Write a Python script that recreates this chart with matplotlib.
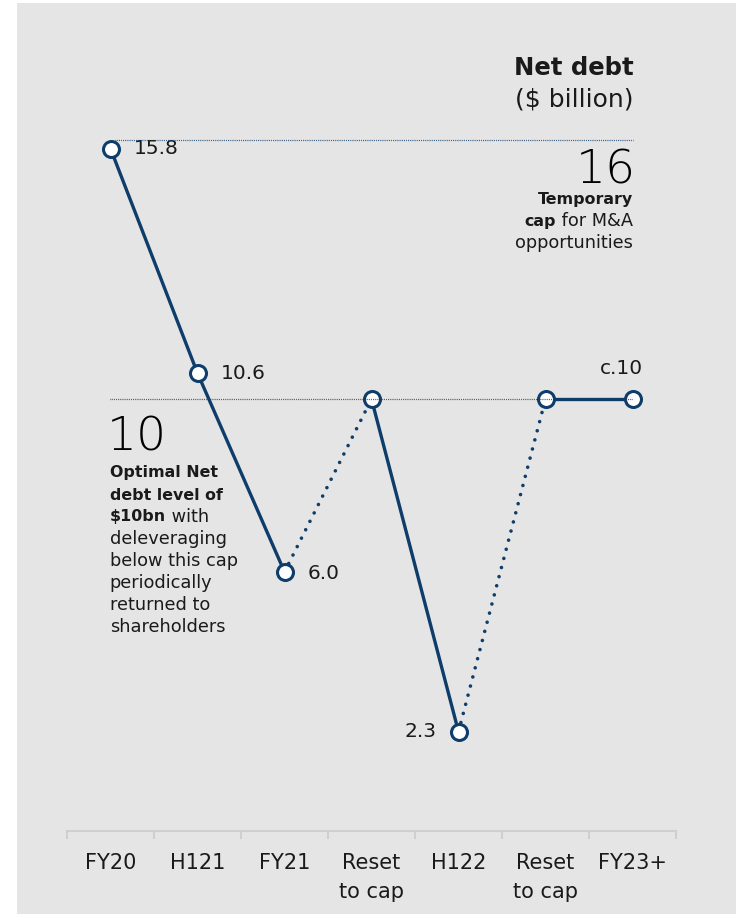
import matplotlib.pyplot as plt
from matplotlib.patches import Rectangle

# net debt path, $ billion
categories = ["FY20", "H121", "FY21", "Reset\nto cap", "H122", "Reset\nto cap", "FY23+"]
net_debt = [15.8, 10.6, 6.0, 10.0, 2.3, 10.0, 10.0]
value_labels = ["15.8", "10.6", "6.0", None, "2.3", None, "c.10"]

temporary_cap = 16
optimal_level = 10

title_bold = "Net debt"
title_unit = "($ billion)"
cap_note = ["Temporary", "cap", " for M&A", "opportunities"]
optimal_note = ["Optimal Net", "debt level of", "$10bn", " with", "deleveraging",
                "below this cap", "periodically", "returned to", "shareholders"]

NAVY = "#0e3d6b"
INK = "#1a1a1a"
BG = "#e5e5e5"
FONT = "DejaVu Sans"
BODY = 12.8
BODY_BOLD = 11.4

plt.rcParams["font.family"] = [FONT]

fig = plt.figure(figsize=(7.36, 9.14), dpi=100)
fig.patch.set_facecolor("white")
fig.patches.append(Rectangle((17 / 736, 0), 1 - 17 / 736, 1 - 3 / 914,
                             transform=fig.transFigure, facecolor=BG,
                             edgecolor="none", zorder=-10))

px_per_unit = 43.19
ymax = 18
ax = fig.add_axes([67 / 736, 83 / 914, 609 / 736, ymax * px_per_unit / 914])
ax.set_facecolor("none")
ax.set_xlim(-0.5, len(categories) - 0.5)
ax.set_ylim(0, ymax)

for side in ["top", "right", "left"]:
    ax.spines[side].set_visible(False)
ax.spines["bottom"].set_color("#cfcfcf")
ax.spines["bottom"].set_linewidth(1.5)
ax.set_yticks([])
xs = list(range(len(categories)))
ax.set_xticks(xs)
ax.set_xticklabels(categories, fontsize=15, color=INK, linespacing=1.55)
ax.tick_params(axis="x", which="major", length=0, pad=16)
ax.set_xticks([x - 0.5 for x in xs] + [xs[-1] + 0.5], minor=True)
ax.tick_params(axis="x", which="minor", length=6, width=1.5, color="#cfcfcf")

# cap reference lines
ax.plot([0.05, 6], [temporary_cap] * 2, color=NAVY, lw=0.9,
        linestyle=(0, (0.6, 0.9)), zorder=5, clip_on=False)
ax.plot([-0.01, 6], [optimal_level] * 2, color="#333333", lw=0.9,
        linestyle=(0, (0.6, 0.9)), zorder=5, clip_on=False)

# path segments: steps into a reset are dotted
for i in range(len(xs) - 1):
    seg_x = xs[i:i + 2]
    seg_y = net_debt[i:i + 2]
    if categories[i + 1].startswith("Reset"):
        ax.plot(seg_x, seg_y, color=NAVY, lw=2.6, linestyle=(0, (0.01, 2.6)),
                dash_capstyle="round", zorder=3)
    else:
        ax.plot(seg_x, seg_y, color=NAVY, lw=2.4, solid_capstyle="round", zorder=3)

ax.plot(xs, net_debt, linestyle="none", marker="o", markersize=11.5,
        markerfacecolor="white", markeredgecolor=NAVY, markeredgewidth=2.2,
        zorder=4, clip_on=False)

# value labels
label_offsets = {0: (17, 0, "left"), 1: (17, 0, "left"), 2: (17, -1, "left"),
                 4: (-16, 0, "right"), 6: (-8, 22, "center")}
for i, lab in enumerate(value_labels):
    if lab is None:
        continue
    dx, dy, ha = label_offsets[i]
    ax.annotate(lab, (xs[i], net_debt[i]), xytext=(dx, dy), textcoords="offset points",
                ha=ha, va="center", fontsize=14.5, color=INK)

# headline, top right
right = 6.01
ax.text(right, 17.67, title_bold, ha="right", va="center", fontsize=17.5,
        fontweight="bold", color=INK)
ax.text(right, 16.93, title_unit, ha="right", va="center", fontsize=18,
        color=INK, parse_math=False)

# temporary cap note
ax.text(right + 0.03, 15.3, str(temporary_cap), ha="right", va="center", fontsize=34,
        fontweight="ultralight", color="black")
ax.text(right, 14.63, cap_note[0], ha="right", va="center", fontsize=BODY_BOLD,
        fontweight="bold", color=INK)
rest = ax.text(right, 14.12, cap_note[2], ha="right", va="center", fontsize=BODY,
               color=INK)
ax.annotate(cap_note[1], xy=(0, 0.5), xycoords=rest, ha="right", va="center",
            fontsize=BODY_BOLD, fontweight="bold", color=INK)
ax.text(right, 13.61, cap_note[3], ha="right", va="center", fontsize=BODY, color=INK)

# optimal level note
left = -0.01
ax.text(left - 0.03, 9.12, str(optimal_level), ha="left", va="center", fontsize=34,
        fontweight="ultralight", color="black")
line_step = 22 / px_per_unit
y = (831 - 473) / px_per_unit
ax.text(left, y, optimal_note[0], ha="left", va="center", fontsize=BODY_BOLD,
        fontweight="bold", color=INK)
y -= line_step
ax.text(left, y, optimal_note[1], ha="left", va="center", fontsize=BODY_BOLD,
        fontweight="bold", color=INK)
y -= line_step
bold = ax.text(left, y, optimal_note[2], ha="left", va="center", fontsize=BODY_BOLD,
               fontweight="bold", color=INK, parse_math=False)
ax.annotate(optimal_note[3], xy=(1, 0.5), xycoords=bold, ha="left", va="center",
            fontsize=BODY, color=INK)
for line in optimal_note[4:]:
    y -= line_step
    ax.text(left, y, line, ha="left", va="center", fontsize=BODY, color=INK)

fig.savefig("out.png", dpi=100, facecolor=fig.get_facecolor())
